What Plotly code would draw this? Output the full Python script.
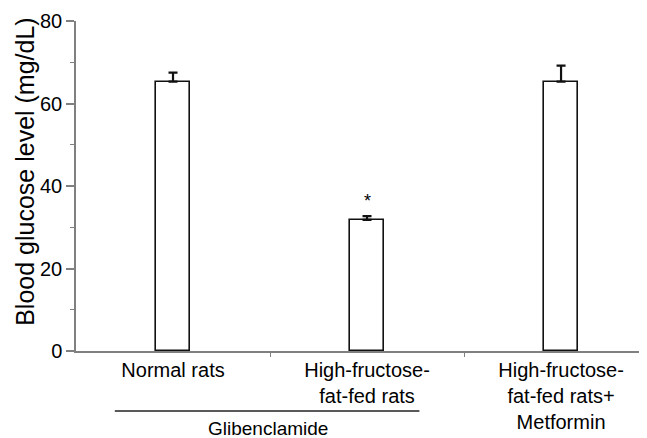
import plotly.graph_objects as go

categories = ["Normal rats", "High-fructose-<br>fat-fed rats", "High-fructose-<br>fat-fed rats+<br>Metformin"]
means = [65.3, 31.8, 65.3]
errors = [2.2, 0.9, 3.9]
sig_labels = ["", "*", ""]
group_label = "Glibenclamide"
y_ticks = [0, 20, 40, 60, 80]

FONT = "Liberation Sans, Arial, sans-serif"
xpos = list(range(len(categories)))

fig = go.Figure()
fig.add_trace(go.Bar(
    x=xpos, y=means, width=0.175,
    marker=dict(color="white", line=dict(color="#111111", width=1.6)),
    error_y=dict(type="data", symmetric=False, array=errors, arrayminus=[0]*len(errors),
                 color="#111111", thickness=2.2, width=4.5),
    showlegend=False,
))

for i, s in enumerate(sig_labels):
    if s:
        fig.add_annotation(x=xpos[i], y=means[i] + errors[i] + 3.6, text=s, showarrow=False,
                           font=dict(family=FONT, size=18, color="black"), yanchor="middle")

# group bracket under first two categories
fig.add_shape(type="line", xref="x", yref="paper", x0=xpos[0] - 0.30, x1=xpos[1] + 0.27,
              y0=-0.182, y1=-0.182, line=dict(color="#222222", width=1.5))
fig.add_annotation(xref="x", yref="paper", x=(xpos[0] + xpos[1]) / 2 - 0.01, y=-0.236,
                   text=group_label, showarrow=False, yanchor="middle",
                   font=dict(family=FONT, size=19, color="black"))

fig.add_annotation(xref="paper", yref="paper", x=-0.0893, y=0.543, textangle=-90,
                   text="Blood glucose level (mg/dL)", showarrow=False,
                   xanchor="center", yanchor="middle",
                   font=dict(family=FONT, size=25, color="black"))

# the page body adds an 8px offset; size the figure so the plot area lands where the reference has it
fig.update_layout(
    width=639, height=430,
    margin=dict(l=68, r=0, t=12.5, b=87),
    paper_bgcolor="white", plot_bgcolor="white",
    font=dict(family=FONT, size=20, color="black"),
    bargap=0,
)
fig.update_xaxes(
    automargin=False,
    range=[-0.5, 2.443], tickmode="array", tickvals=xpos, ticktext=categories,
    ticks="", showline=True, linecolor="#808080", linewidth=1.5, showgrid=False,
    zeroline=False, tickfont=dict(family=FONT, size=20, color="black"),
    minor=dict(tickmode="array", tickvals=[0.5, 1.5], ticks="outside", ticklen=4,
               tickcolor="#808080", tickwidth=1.2),
)
fig.update_yaxes(
    automargin=False,
    range=[0, 80], tickmode="array", tickvals=y_ticks, ticks="outside", ticklen=8,
    tickcolor="#808080", tickwidth=1.5, showline=True, linecolor="#808080", linewidth=1.5,
    showgrid=False, zeroline=False, tickfont=dict(family=FONT, size=20, color="black"),
    minor=dict(tickmode="array", tickvals=[10, 30, 50, 70], ticks="outside", ticklen=4,
               tickcolor="#808080", tickwidth=1.2),
)

fig.write_html("out.html")
